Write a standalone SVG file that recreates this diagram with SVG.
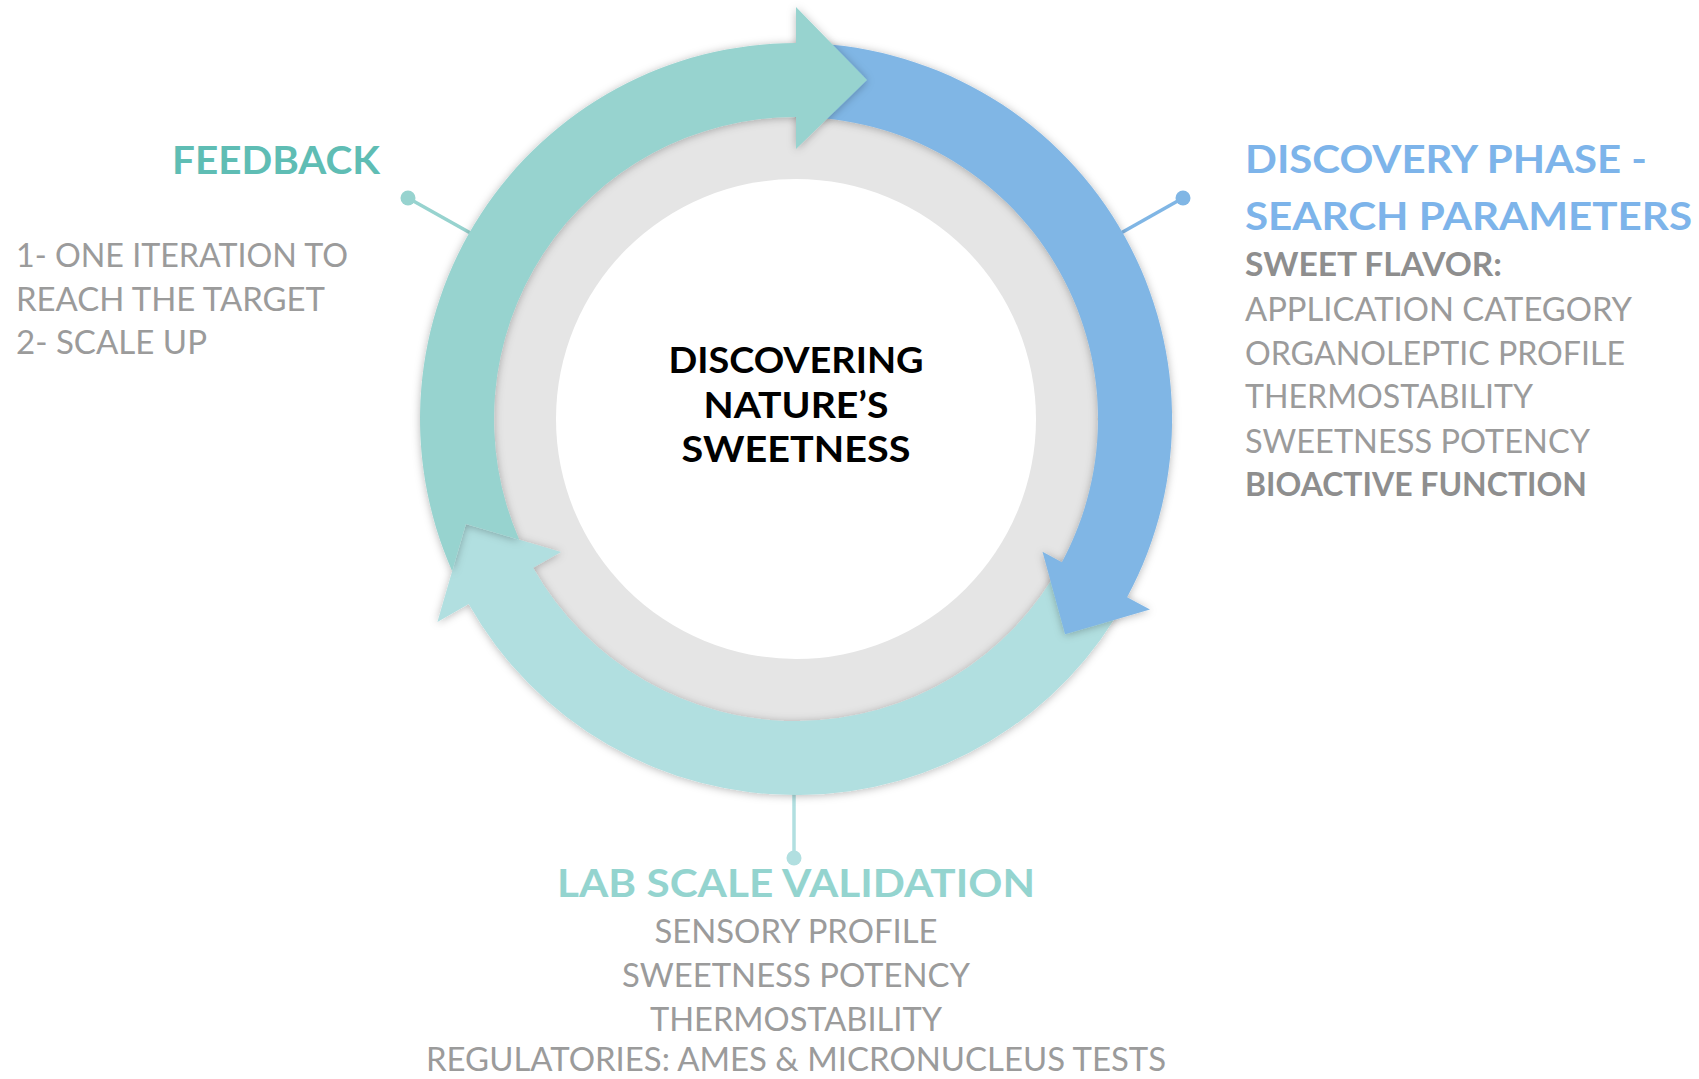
<svg xmlns="http://www.w3.org/2000/svg" width="1699" height="1079" viewBox="0 0 1699 1079">
  <defs>
    <filter id="sh" x="-20%" y="-20%" width="140%" height="140%">
      <feDropShadow dx="0" dy="1" stdDeviation="4" flood-color="#000" flood-opacity="0.28"/>
    </filter>
    <style>
      text { font-family: Lato, "Open Sans", "Liberation Sans", sans-serif; }
      .title { font-size: 38px; font-weight: 700; }
      .body { font-size: 32px; font-weight: 400; fill: #9b9b9b; }
      .bold { font-size: 32px; font-weight: 700; fill: #8e8e8e; }
      .center { font-size: 36px; font-weight: 700; fill: #000; text-anchor: middle; }
      .mid { text-anchor: middle; }
    </style>
  </defs>
  <rect width="1699" height="1079" fill="#ffffff"/>

  <g id="connectors">
    <line x1="408" y1="198" x2="490" y2="244" stroke="#97D3CF" stroke-width="3.5"/>
    <circle cx="408" cy="198" r="7.5" fill="#97D3CF"/>
    <line x1="1183" y1="198" x2="1105" y2="242" stroke="#80B6E5" stroke-width="3.5"/>
    <circle cx="1183" cy="198" r="7.5" fill="#80B6E5"/>
    <line x1="794" y1="780" x2="794" y2="858" stroke="#B1DFE0" stroke-width="3.5"/>
    <circle cx="794" cy="858" r="7.5" fill="#B1DFE0"/>
  </g>

  <g id="cycle">
    <circle cx="796" cy="419" r="305" fill="#E5E5E5"/>
    <circle cx="796" cy="419" r="240" fill="#ffffff"/>
    <path id="arrow-validation" filter="url(#sh)" fill="#B1DFE0" d="M 1127.1 597.3 A 376 376 0 0 1 468.7 604.1 L 437.4 621.9 L 465.9 524.1 L 561.0 551.9 L 533.1 567.7 A 302 302 0 0 0 1061.9 562.2 Z"/>
    <path id="arrow-discovery" filter="url(#sh)" fill="#80B6E5" d="M 796 43 A 376 376 0 0 1 1127.1 597.3 L 1150.0 609.6 L 1065.1 634.3 L 1042.5 551.7 L 1061.9 562.2 A 302 302 0 0 0 796 117 Z"/>
    <path id="arrow-feedback" filter="url(#sh)" fill="#97D3CF" d="M 452.2 571.2 L 465.9 524.1 L 519.2 539.7 A 302 302 0 0 1 796 117 L 796 149 L 867 80 L 796 7 L 796 43 A 376 376 0 0 0 452.2 571.2 Z"/>
  </g>

  <g id="center-label">
    <text class="center" x="796" y="373" textLength="255" lengthAdjust="spacingAndGlyphs">DISCOVERING</text>
    <text class="center" x="796" y="418" textLength="185" lengthAdjust="spacingAndGlyphs">NATURE’S</text>
    <text class="center" x="796" y="462" textLength="229" lengthAdjust="spacingAndGlyphs">SWEETNESS</text>
  </g>

  <g id="feedback">
    <text class="title" x="172" y="174" textLength="208" lengthAdjust="spacingAndGlyphs" fill="#5FBDB4">FEEDBACK</text>
    <text class="body" x="16" y="267" textLength="332" lengthAdjust="spacingAndGlyphs">1- ONE ITERATION TO</text>
    <text class="body" x="16" y="311" textLength="309" lengthAdjust="spacingAndGlyphs">REACH THE TARGET</text>
    <text class="body" x="16" y="354" textLength="191" lengthAdjust="spacingAndGlyphs">2- SCALE UP</text>
  </g>

  <g id="discovery">
    <text class="title" x="1245" y="173" textLength="402" lengthAdjust="spacingAndGlyphs" fill="#7DB4EA">DISCOVERY PHASE -</text>
    <text class="title" x="1245" y="230" textLength="447" lengthAdjust="spacingAndGlyphs" fill="#7DB4EA">SEARCH PARAMETERS</text>
    <text class="bold" x="1245" y="276" textLength="257" lengthAdjust="spacingAndGlyphs">SWEET FLAVOR:</text>
    <text class="body" x="1245" y="321" textLength="387" lengthAdjust="spacingAndGlyphs">APPLICATION CATEGORY</text>
    <text class="body" x="1245" y="365" textLength="380" lengthAdjust="spacingAndGlyphs">ORGANOLEPTIC PROFILE</text>
    <text class="body" x="1245" y="408" textLength="288" lengthAdjust="spacingAndGlyphs">THERMOSTABILITY</text>
    <text class="body" x="1245" y="453" textLength="345" lengthAdjust="spacingAndGlyphs">SWEETNESS POTENCY</text>
    <text class="bold" x="1245" y="496" textLength="342" lengthAdjust="spacingAndGlyphs">BIOACTIVE FUNCTION</text>
  </g>

  <g id="validation">
    <text class="title mid" x="796" y="897" textLength="478" lengthAdjust="spacingAndGlyphs" fill="#94D4CF">LAB SCALE VALIDATION</text>
    <text class="body mid" x="796" y="943" textLength="283" lengthAdjust="spacingAndGlyphs">SENSORY PROFILE</text>
    <text class="body mid" x="796" y="987" textLength="348" lengthAdjust="spacingAndGlyphs">SWEETNESS POTENCY</text>
    <text class="body mid" x="796" y="1031" textLength="292" lengthAdjust="spacingAndGlyphs">THERMOSTABILITY</text>
    <text class="body mid" x="796" y="1071" textLength="740" lengthAdjust="spacingAndGlyphs">REGULATORIES: AMES &amp; MICRONUCLEUS TESTS</text>
  </g>
</svg>
